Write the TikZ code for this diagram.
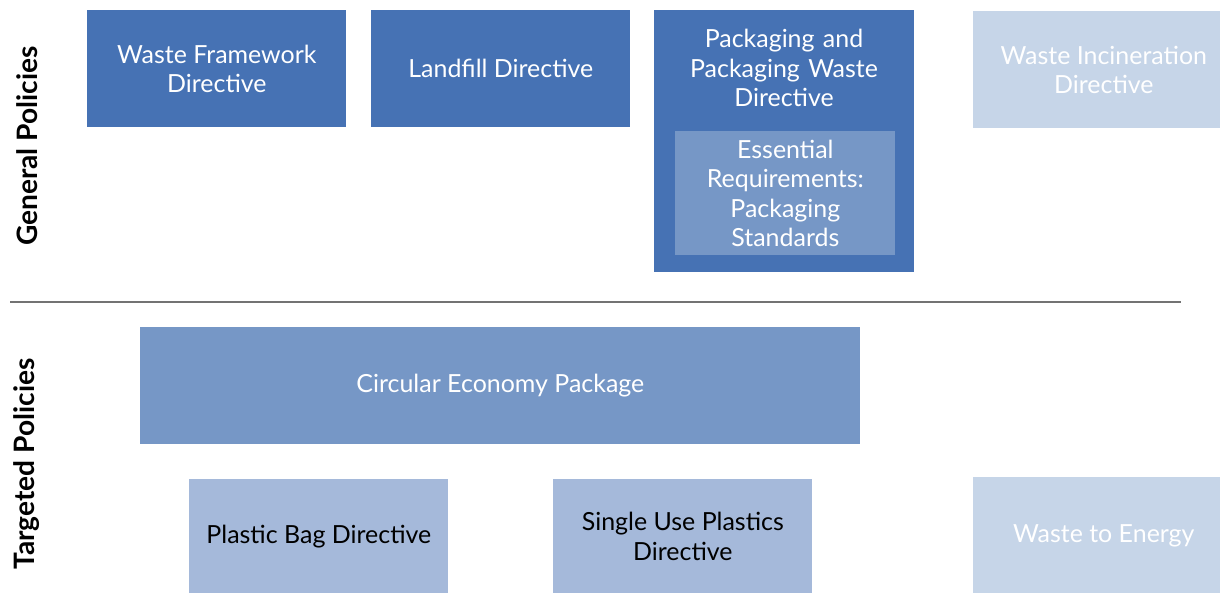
\documentclass[tikz,border=0pt]{standalone}
\usepackage{fontspec}
\setmainfont{Lato}
\usepackage{tikz}
\usetikzlibrary{positioning}
\definecolor{polDark}{RGB}{70,114,180}
\definecolor{polMid}{RGB}{118,151,198}
\definecolor{polLight}{RGB}{165,185,218}
\definecolor{polPale}{RGB}{198,213,232}

\tikzset{
	boxw/.style={minimum width=#1*0.02cm},
	boxh/.style={minimum height=#1*0.02cm},
	textw/.style={text width=#1*0.02cm},
	policy/.style={anchor=north west, inner sep=0pt, align=center, font=\fontsize{14.2}{16.8}\selectfont},
	general/.style={policy, fill=polDark, text=white},
	essential/.style={policy, fill=polMid, text=white},
	targeted/.style={policy, fill=polLight, text=black},
	future/.style={policy, fill=polPale, text=white},
	sideLabel/.style={rotate=90, font=\bfseries\fontsize{16}{18}\selectfont}
}

\begin{document}
\begin{tikzpicture}[x=0.02cm, y=-0.02cm]

	\useasboundingbox (0,0) rectangle (1220,593);

	% general policies
	\node[general, boxw=259, boxh=117] (wfd) at (87,10) {Waste Framework\\Directive};
	\node[general, boxw=259, boxh=117] (landfill) at (371,10) {Landfill Directive};
	\node[general, boxw=260, boxh=262] (ppwd) at (654,10) {};
	\node[policy, text=white, textw=260, anchor=north] (ppwdText) at (784,29) {Packaging and\\Packaging Waste\\Directive};
	\node[essential, boxw=220, boxh=124, textw=220] (ess) at (675,131) {Essential\\Requirements:\\Packaging\\Standards};
	\node[future, boxw=261, boxh=117] (wid) at (973,11) {Waste Incineration\\Directive};

	\node[sideLabel] (general) at (27,146) {General Policies};

	% divider
	\coordinate (divL) at (10,302);
	\coordinate (divR) at (1181,302);
	\draw[gray!90!black, line width=0.6pt] (divL) -- (divR);

	% targeted policies
	\node[essential, boxw=720, boxh=117] (cep) at (140,327) {Circular Economy Package};
	\node[targeted, boxw=259, boxh=114] (pbd) at (189,479) {Plastic Bag Directive};
	\node[targeted, boxw=259, boxh=114] (sup) at (553,479) {Single Use Plastics\\Directive};
	\node[future, boxw=261, boxh=116] (wte) at (973,477) {Waste to Energy};

	\node[sideLabel] (targeted) at (27,464) {Targeted Policies};

\end{tikzpicture}
\end{document}
